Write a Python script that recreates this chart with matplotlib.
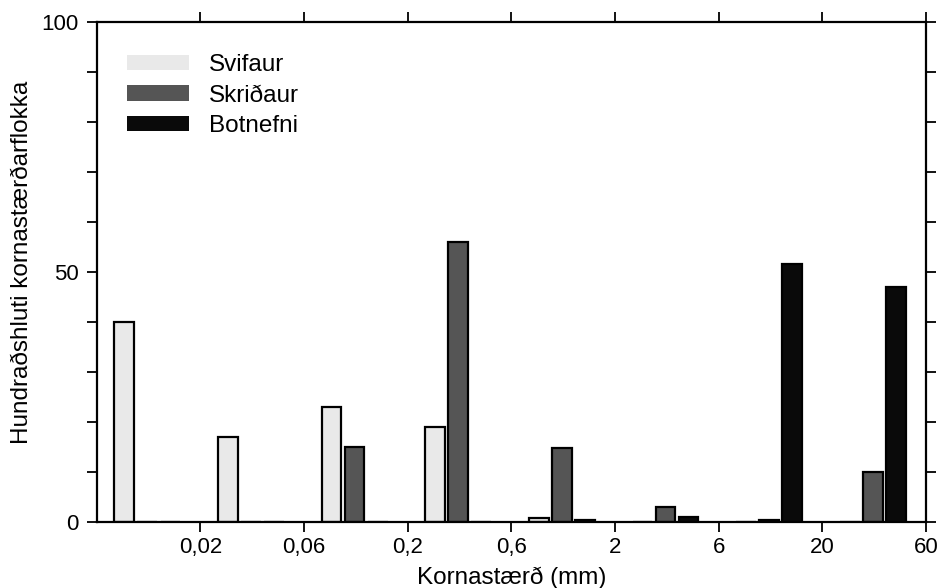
import numpy as np
import matplotlib
matplotlib.use("Agg")
import matplotlib.pyplot as plt
from matplotlib.patches import Patch
from matplotlib.ticker import MultipleLocator, FixedLocator

plt.rcParams['font.family'] = ['Liberation Sans', 'DejaVu Sans']

tick_labels = ["0,02", "0,06", "0,2", "0,6", "2", "6", "20", "60"]
series_names = ["Svifaur", "Skriðaur", "Botnefni"]
svifaur = [40, 17, 23, 19, 0.8, 0, 0, 0]
skridaur = [0, 0, 15, 56, 14.8, 3, 0.4, 10]
botnefni = [0, 0, 0, 0, 0.5, 1, 51.5, 47]

fig = plt.figure(figsize=(9.4, 5.88), dpi=100)
ax = fig.add_axes([0.103, 0.112, 0.882, 0.851])

n = len(svifaur)
x = np.arange(n)
w = 0.19
offsets = [0.265, 0.487, 0.71]
colors = ["#e9e9e9", "#555555", "#0a0a0a"]
for vals, off, col in zip([svifaur, skridaur, botnefni], offsets, colors):
    ax.bar(x + off, vals, width=w, color=col, edgecolor="black", linewidth=1.6, zorder=2)

ax.set_xlim(0, n)
ax.set_ylim(0, 100)
ax.xaxis.set_major_locator(FixedLocator(np.arange(1, n + 1)))
ax.set_xticklabels(tick_labels)
ax.yaxis.set_major_locator(FixedLocator([0, 50, 100]))
ax.yaxis.set_minor_locator(MultipleLocator(10))
ax.tick_params(axis='both', which='both', direction='out', top=True, right=True,
               labelsize=16, width=1.3, colors='black')
ax.tick_params(axis='both', which='major', length=7)
ax.tick_params(axis='y', which='minor', length=7)
ax.tick_params(axis='y', which='major', pad=6)
ax.tick_params(axis='x', which='major', pad=4)
for s in ax.spines.values():
    s.set_linewidth(1.6)

ax.set_xlabel("Kornastærð (mm)", fontsize=17.5, labelpad=6)
ax.set_ylabel("Hundraðshluti kornastærðarflokka", fontsize=17.5, labelpad=6)
ax.yaxis.label.set_y(0.52)

handles = [Patch(facecolor=c, edgecolor='none') for c in colors]
ax.legend(handles, series_names, loc='upper left', bbox_to_anchor=(0.037, 0.936),
          frameon=False, fontsize=17.5, handlelength=2.55, handleheight=0.58,
          handletextpad=0.82, labelspacing=0.36, borderpad=0, borderaxespad=0)

fig.savefig("out.png", dpi=100)
